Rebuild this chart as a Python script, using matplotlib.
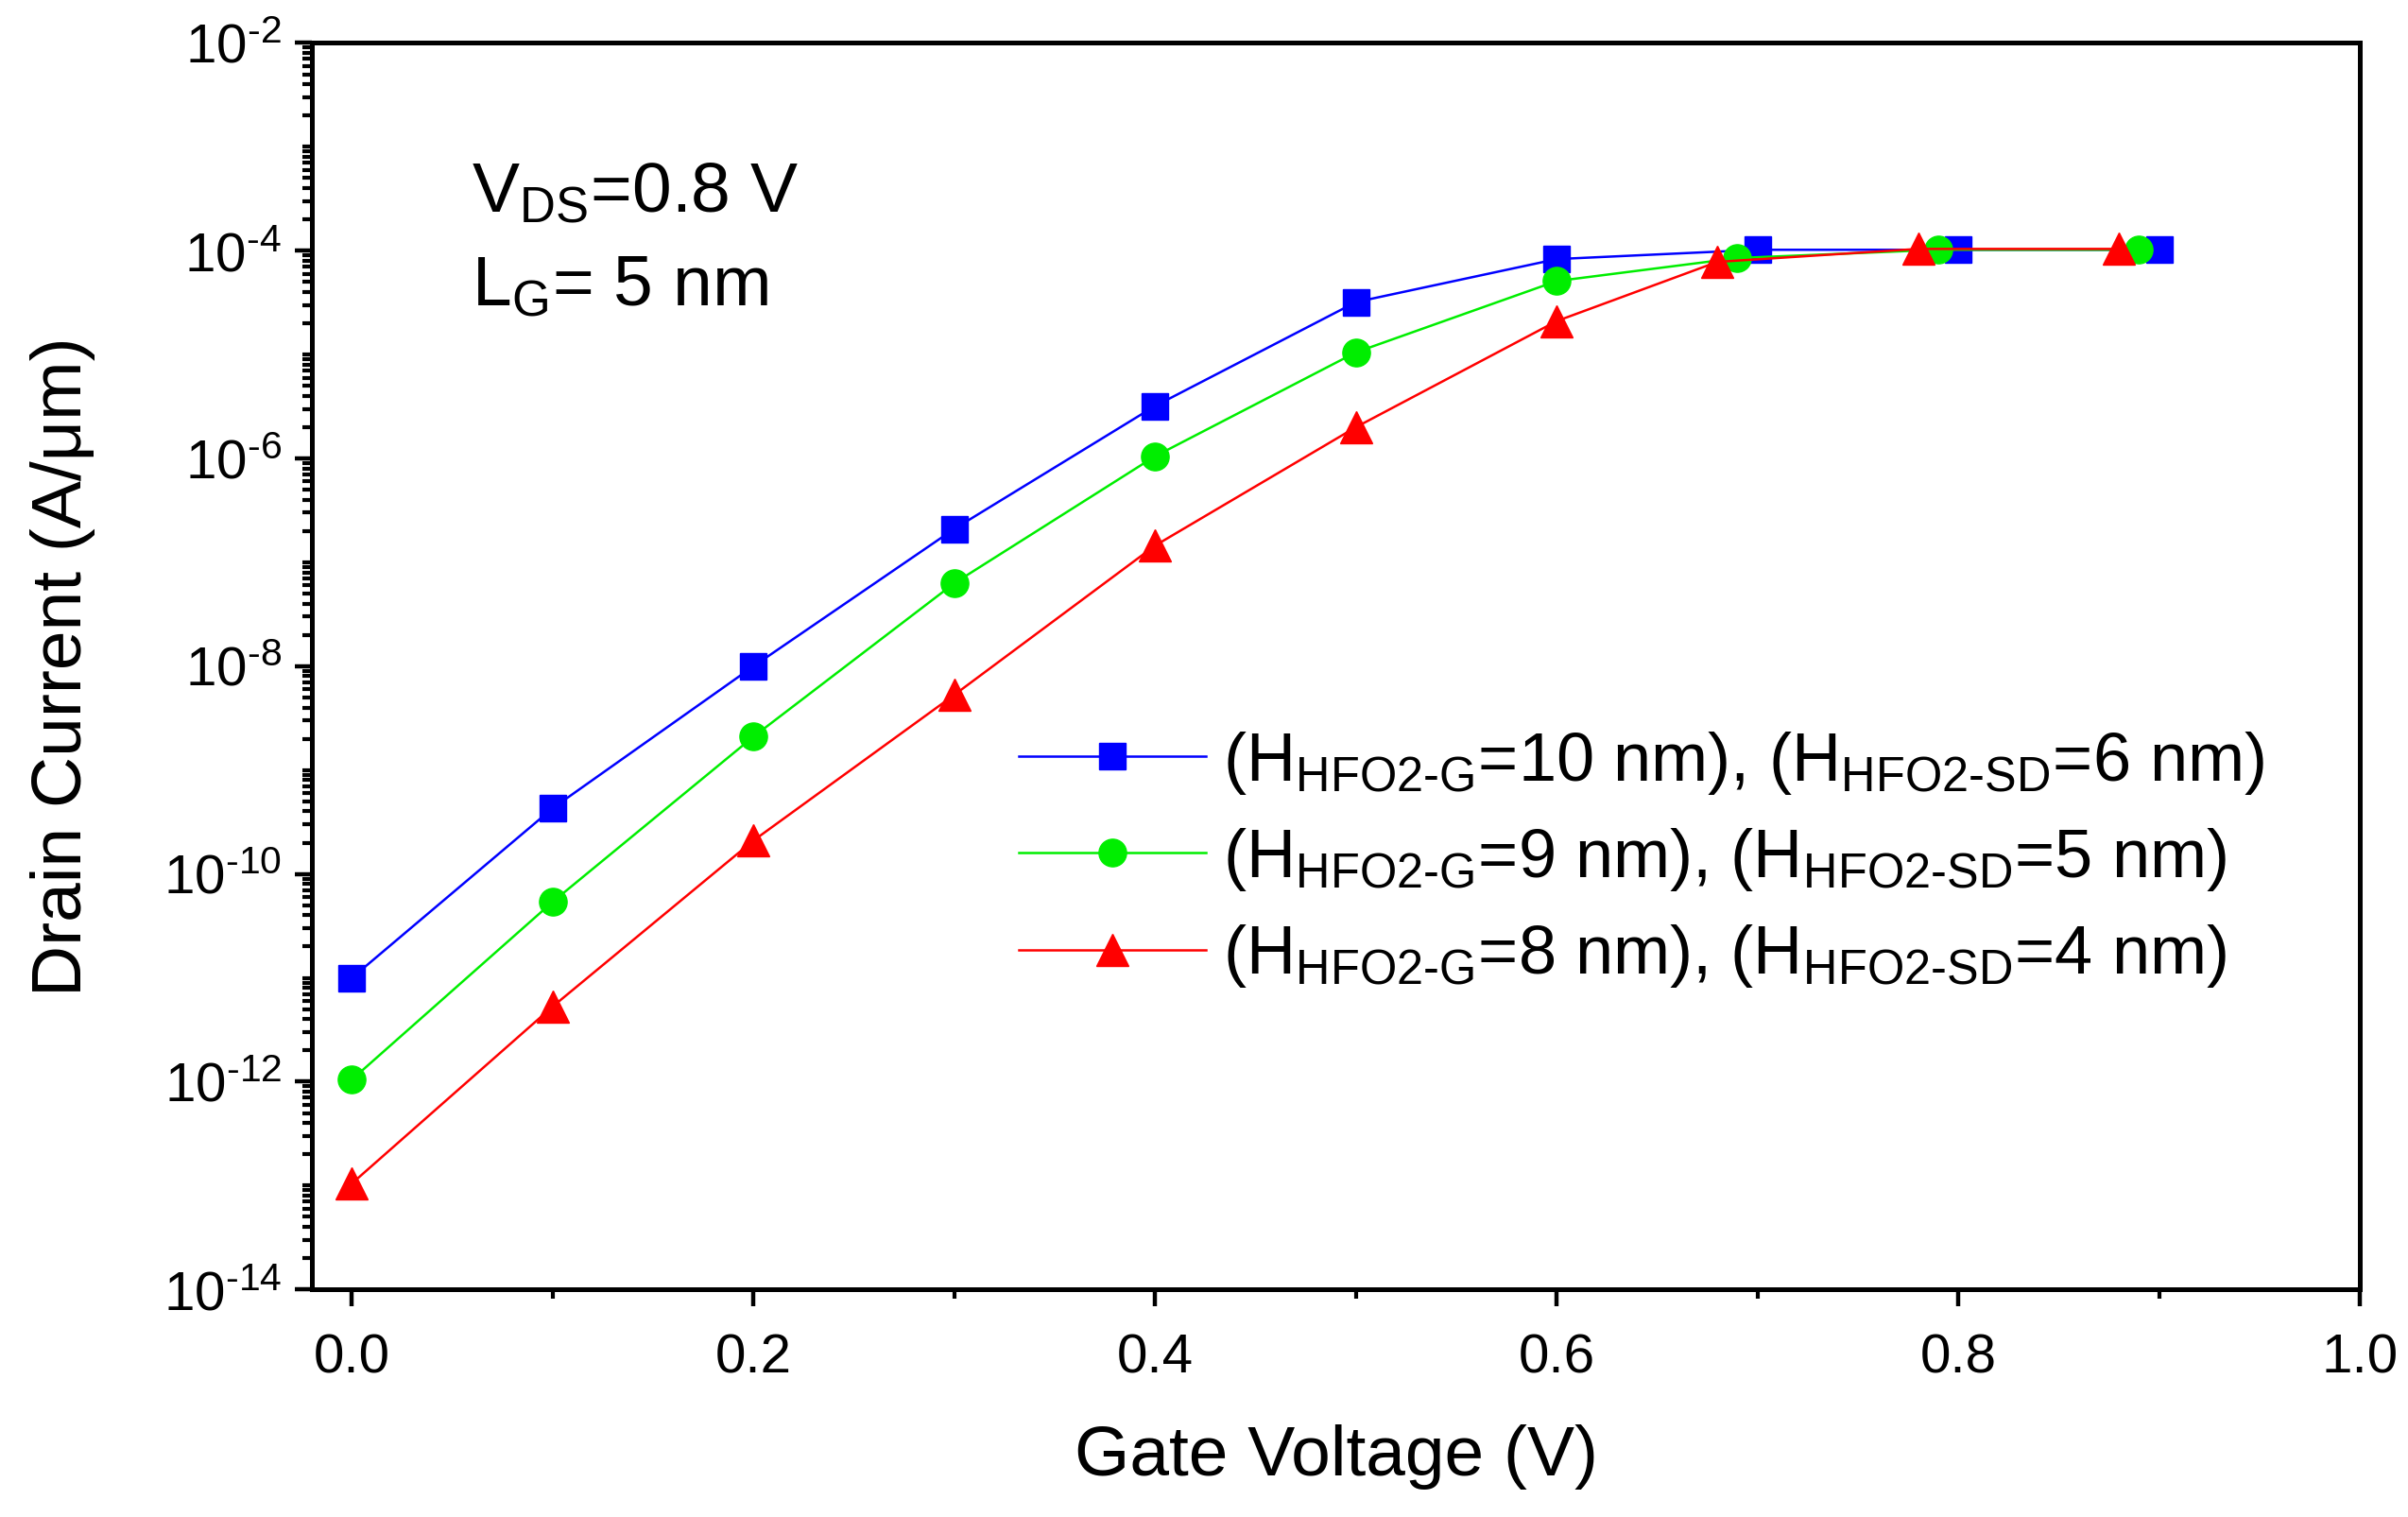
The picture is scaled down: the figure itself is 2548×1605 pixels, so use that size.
import matplotlib
matplotlib.use("Agg")
import matplotlib.pyplot as plt
from matplotlib.ticker import LogLocator, FixedLocator, FuncFormatter, MultipleLocator
import numpy as np

base = "Liberation Sans"
plt.rcParams['font.family'] = [base, 'DejaVu Sans']
plt.rcParams['mathtext.fontset'] = 'custom'
plt.rcParams['mathtext.rm'] = base
plt.rcParams['mathtext.it'] = base + ':italic'
plt.rcParams['mathtext.bf'] = base + ':bold'

# ---- data ----
x_blue = [0.0, 0.1, 0.2, 0.3, 0.4, 0.5, 0.6, 0.70, 0.80, 0.90]
y_blue = [1.0e-11, 4.3e-10, 1.0e-8, 2.1e-7, 3.2e-6, 3.2e-5, 8.3e-5, 1.02e-4, 1.02e-4, 1.02e-4]
x_green = [0.0, 0.1, 0.2, 0.3, 0.4, 0.5, 0.6, 0.69, 0.79, 0.89]
y_green = [1.05e-12, 5.4e-11, 2.1e-9, 6.3e-8, 1.05e-6, 1.05e-5, 5.1e-5, 8.5e-5, 1.02e-4, 1.02e-4]
x_red = [0.0, 0.1, 0.2, 0.3, 0.4, 0.5, 0.6, 0.68, 0.78, 0.88]
y_red = [1.05e-13, 5.3e-12, 2.1e-10, 5.3e-9, 1.45e-7, 2.0e-6, 2.1e-5, 7.8e-5, 1.04e-4, 1.04e-4]

labels = [r'(H$_{\mathrm{HFO2\text{-}G}}$=10 nm), (H$_{\mathrm{HFO2\text{-}SD}}$=6 nm)',
          r'(H$_{\mathrm{HFO2\text{-}G}}$=9 nm), (H$_{\mathrm{HFO2\text{-}SD}}$=5 nm)',
          r'(H$_{\mathrm{HFO2\text{-}G}}$=8 nm), (H$_{\mathrm{HFO2\text{-}SD}}$=4 nm)']

fig = plt.figure(figsize=(25.48, 16.05), dpi=100)
ax = fig.add_axes([0.1295, 0.150, 0.8505, 0.8217])

ax.plot(x_blue, y_blue, '-', color='#0000FF', lw=1.8, marker='s', ms=20, mec='#0000FF', label=labels[0])
ax.plot(x_green, y_green, '-', color='#00EE00', lw=1.8, marker='o', ms=21, mec='#00EE00', label=labels[1])
ax.plot(x_red, y_red, '-', color='#FF0000', lw=1.8, marker='^', ms=24, mec='#FF0000', label=labels[2])

ax.set_yscale('log')
ax.set_xlim(-0.02, 1.0)
ax.set_ylim(1e-14, 1e-2)

ax.xaxis.set_major_locator(MultipleLocator(0.2))
ax.xaxis.set_minor_locator(MultipleLocator(0.1))
ax.xaxis.set_major_formatter(FuncFormatter(lambda v, p: f"{v:.1f}"))

ax.yaxis.set_major_locator(FixedLocator([10.0**k for k in range(-14, -1, 2)]))
ax.yaxis.set_minor_locator(LogLocator(base=10, subs=np.arange(1, 10), numticks=50))
ax.yaxis.set_major_formatter(FuncFormatter(
    lambda v, p: r'$\mathregular{10^{\text{-}%d}}$' % abs(int(round(np.log10(v))))))
ax.yaxis.set_minor_formatter(FuncFormatter(lambda v, p: ''))

ax.tick_params(which='major', direction='out', length=13, width=3.2, labelsize=42,
               top=False, right=False)
ax.tick_params(axis='x', which='major', pad=20)
ax.tick_params(axis='y', which='major', pad=10)
ax.tick_params(which='minor', direction='out', length=7, width=3.0, top=False, right=False)

for s in ax.spines.values():
    s.set_linewidth(3.6)

ax.set_xlabel('Gate Voltage (V)', fontsize=54, labelpad=31)
ax.set_ylabel('Drain Current (A/μm)', fontsize=54, labelpad=52)

ax.text(0.078, 0.865, r'V$_{\mathrm{DS}}$=0.8 V', transform=ax.transAxes, fontsize=54)
ax.text(0.078, 0.79, r'L$_{\mathrm{G}}$= 5 nm', transform=ax.transAxes, fontsize=54)

leg = ax.legend(loc='center left', bbox_to_anchor=(0.345, 0.345), frameon=False, fontsize=52,
                handlelength=2.75, handletextpad=0.25, labelspacing=0.43, borderpad=0, borderaxespad=0)

fig.savefig('out.png', dpi=100)
